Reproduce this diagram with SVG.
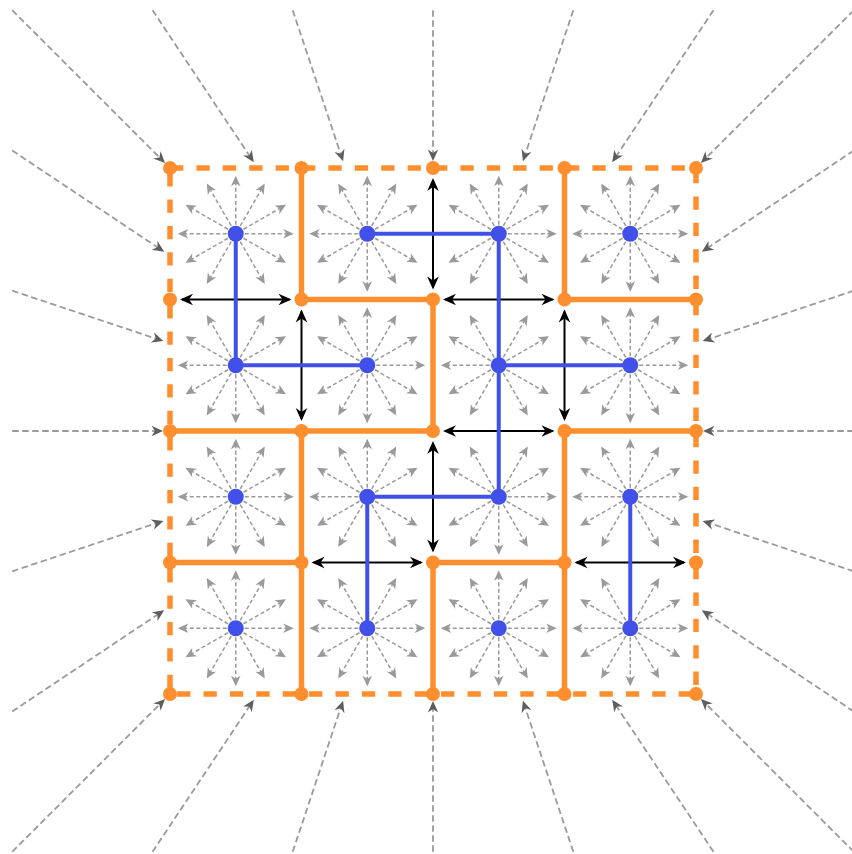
<svg xmlns="http://www.w3.org/2000/svg" xmlns:xlink="http://www.w3.org/1999/xlink" width="852" height="854" viewBox="0 0 852 854">
<style>
.field line{stroke:#9a9a9a;stroke-width:1.5;stroke-dasharray:4 2.6;fill:none;marker-end:url(#ahField)}
.outer line{stroke:#9a9a9a;stroke-width:1.8;stroke-dasharray:6.5 3.5;fill:none;marker-end:url(#ahOuter)}
.wall{stroke:#ff8f2e;stroke-width:5.5;fill:none;stroke-linecap:butt}
.border{stroke:#ff8f2e;stroke-width:5.5;fill:none;stroke-dasharray:13.3 13.1}
.dual line{stroke:#000;stroke-width:2;fill:none;marker-start:url(#ahBlackS);marker-end:url(#ahBlack)}
.tree line{stroke:#4050e8;stroke-width:4;fill:none}
.vtx{fill:#ff8f2e}
.ctr{fill:#4050e8}
</style>
<defs>
<marker id="ahField" viewBox="-10 -6 13 12" refX="0" refY="0" markerWidth="13" markerHeight="12" markerUnits="userSpaceOnUse" orient="auto"><path d="M2,0 L-8.5,-4.8 L-5.5,0 L-8.5,4.8 Z" fill="#9a9a9a"/></marker>
<marker id="ahOuter" viewBox="-11 -6 14 12" refX="0" refY="0" markerWidth="14" markerHeight="12" markerUnits="userSpaceOnUse" orient="auto"><path d="M2,0 L-9.5,-5.2 L-6,0 L-9.5,5.2 Z" fill="#5e5e5e"/></marker>
<marker id="ahBlack" viewBox="-12 -7 15 14" refX="0" refY="0" markerWidth="15" markerHeight="14" markerUnits="userSpaceOnUse" orient="auto"><path d="M2,0 L-11,-5.8 L-7,0 L-11,5.8 Z" fill="#000"/></marker>
<marker id="ahBlackS" viewBox="-12 -7 15 14" refX="0" refY="0" markerWidth="15" markerHeight="14" markerUnits="userSpaceOnUse" orient="auto-start-reverse"><path d="M2,0 L-11,-5.8 L-7,0 L-11,5.8 Z" fill="#000"/></marker>
<g class="field">
<g id="diag">
<line x1="7.79" y1="4.5" x2="48.5" y2="28"/>
<line x1="4.5" y1="7.79" x2="28" y2="48.5"/>
<line x1="-4.5" y1="7.79" x2="-28" y2="48.5"/>
<line x1="-7.79" y1="4.5" x2="-48.5" y2="28"/>
<line x1="-7.79" y1="-4.5" x2="-48.5" y2="-28"/>
<line x1="-4.5" y1="-7.79" x2="-28" y2="-48.5"/>
<line x1="4.5" y1="-7.79" x2="28" y2="-48.5"/>
<line x1="7.79" y1="-4.5" x2="48.5" y2="-28"/>
</g>
<line id="aR" x1="9" y1="0" x2="56" y2="0"/>
<line id="aD" x1="0" y1="9" x2="0" y2="56"/>
<line id="aL" x1="-9" y1="0" x2="-56" y2="0"/>
<line id="aU" x1="0" y1="-9" x2="0" y2="-56"/>
</g>
</defs>
<rect width="852" height="854" fill="#fff"/>
<g id="fields">
<g transform="translate(235.75,233.75)"><use xlink:href="#diag"/><use xlink:href="#aR"/><use xlink:href="#aL"/><use xlink:href="#aU"/></g>
<g transform="translate(367.25,233.75)"><use xlink:href="#diag"/><use xlink:href="#aD"/><use xlink:href="#aL"/><use xlink:href="#aU"/></g>
<g transform="translate(498.75,233.75)"><use xlink:href="#diag"/><use xlink:href="#aR"/><use xlink:href="#aU"/></g>
<g transform="translate(630.25,233.75)"><use xlink:href="#diag"/><use xlink:href="#aR"/><use xlink:href="#aD"/><use xlink:href="#aL"/><use xlink:href="#aU"/></g>
<g transform="translate(235.75,365.25)"><use xlink:href="#diag"/><use xlink:href="#aD"/><use xlink:href="#aL"/></g>
<g transform="translate(367.25,365.25)"><use xlink:href="#diag"/><use xlink:href="#aR"/><use xlink:href="#aD"/><use xlink:href="#aU"/></g>
<g transform="translate(498.75,365.25)"><use xlink:href="#diag"/><use xlink:href="#aL"/></g>
<g transform="translate(630.25,365.25)"><use xlink:href="#diag"/><use xlink:href="#aR"/><use xlink:href="#aD"/><use xlink:href="#aU"/></g>
<g transform="translate(235.75,496.75)"><use xlink:href="#diag"/><use xlink:href="#aR"/><use xlink:href="#aD"/><use xlink:href="#aL"/><use xlink:href="#aU"/></g>
<g transform="translate(367.25,496.75)"><use xlink:href="#diag"/><use xlink:href="#aL"/><use xlink:href="#aU"/></g>
<g transform="translate(498.75,496.75)"><use xlink:href="#diag"/><use xlink:href="#aR"/><use xlink:href="#aD"/></g>
<g transform="translate(630.25,496.75)"><use xlink:href="#diag"/><use xlink:href="#aR"/><use xlink:href="#aL"/><use xlink:href="#aU"/></g>
<g transform="translate(235.75,628.25)"><use xlink:href="#diag"/><use xlink:href="#aR"/><use xlink:href="#aD"/><use xlink:href="#aL"/><use xlink:href="#aU"/></g>
<g transform="translate(367.25,628.25)"><use xlink:href="#diag"/><use xlink:href="#aR"/><use xlink:href="#aD"/><use xlink:href="#aL"/></g>
<g transform="translate(498.75,628.25)"><use xlink:href="#diag"/><use xlink:href="#aR"/><use xlink:href="#aD"/><use xlink:href="#aL"/><use xlink:href="#aU"/></g>
<g transform="translate(630.25,628.25)"><use xlink:href="#diag"/><use xlink:href="#aR"/><use xlink:href="#aD"/><use xlink:href="#aL"/></g>
</g>
<g id="connectors">
<g class="outer">
<line x1="12.2" y1="10.2" x2="163.64" y2="161.64"/>
<line x1="152.5" y1="10.2" x2="252.68" y2="160.51"/>
<line x1="292.7" y1="10.2" x2="342.48" y2="159.46"/>
<line x1="433" y1="10.2" x2="433" y2="159"/>
<line x1="573.3" y1="10.2" x2="523.52" y2="159.46"/>
<line x1="713.5" y1="10.2" x2="613.32" y2="160.51"/>
<line x1="853.8" y1="10.2" x2="702.36" y2="161.64"/>
<line x1="12.2" y1="851.8" x2="163.64" y2="700.36"/>
<line x1="152.5" y1="851.8" x2="252.68" y2="701.49"/>
<line x1="292.7" y1="851.8" x2="342.48" y2="702.54"/>
<line x1="433" y1="851.8" x2="433" y2="703"/>
<line x1="573.3" y1="851.8" x2="523.52" y2="702.54"/>
<line x1="713.5" y1="851.8" x2="613.32" y2="701.49"/>
<line x1="853.8" y1="851.8" x2="702.36" y2="700.36"/>
<line x1="12.2" y1="150.5" x2="162.51" y2="250.68"/>
<line x1="12.2" y1="290.7" x2="161.46" y2="340.48"/>
<line x1="12.2" y1="431" x2="161" y2="431"/>
<line x1="12.2" y1="571.3" x2="161.46" y2="521.52"/>
<line x1="12.2" y1="711.5" x2="162.51" y2="611.32"/>
<line x1="853.8" y1="150.5" x2="703.49" y2="250.68"/>
<line x1="853.8" y1="290.7" x2="704.54" y2="340.48"/>
<line x1="853.8" y1="431" x2="705" y2="431"/>
<line x1="853.8" y1="571.3" x2="704.54" y2="521.52"/>
<line x1="853.8" y1="711.5" x2="703.49" y2="611.32"/>
</g>
<g id="walls">
<path class="border" d="M170,168 H696 V694 H170 Z"/>
<path class="wall" d="M301.5,168 V299.5 H433 V431 H170"/>
<path class="wall" d="M564.5,168 V299.5 H696"/>
<path class="wall" d="M301.5,431 V694"/>
<path class="wall" d="M170,562.5 H301.5"/>
<path class="wall" d="M696,431 H564.5 V694"/>
<path class="wall" d="M564.5,562.5 H433 V694"/>
</g>
<g class="dual">
<line x1="182" y1="299.5" x2="289.5" y2="299.5"/>
<line x1="301.5" y1="311.5" x2="301.5" y2="419"/>
<line x1="433" y1="180" x2="433" y2="287.5"/>
<line x1="445" y1="299.5" x2="552.5" y2="299.5"/>
<line x1="564.5" y1="311.5" x2="564.5" y2="419"/>
<line x1="445" y1="431" x2="552.5" y2="431"/>
<line x1="433" y1="443" x2="433" y2="550.5"/>
<line x1="313.5" y1="562.5" x2="421" y2="562.5"/>
<line x1="576.5" y1="562.5" x2="684" y2="562.5"/>
</g>
<g class="tree">
<line x1="235.75" y1="233.75" x2="235.75" y2="365.25"/>
<line x1="235.75" y1="365.25" x2="367.25" y2="365.25"/>
<line x1="367.25" y1="233.75" x2="498.75" y2="233.75"/>
<line x1="498.75" y1="233.75" x2="498.75" y2="496.75"/>
<line x1="498.75" y1="365.25" x2="630.25" y2="365.25"/>
<line x1="367.25" y1="496.75" x2="498.75" y2="496.75"/>
<line x1="367.25" y1="496.75" x2="367.25" y2="628.25"/>
<line x1="630.25" y1="496.75" x2="630.25" y2="628.25"/>
</g>
</g>
<g id="vertices">
<g id="v00"><circle class="vtx" cx="170" cy="168" r="7"/></g>
<g id="v10"><circle class="vtx" cx="301.5" cy="168" r="7"/></g>
<g id="v20"><circle class="vtx" cx="433" cy="168" r="7"/></g>
<g id="v30"><circle class="vtx" cx="564.5" cy="168" r="7"/></g>
<g id="v40"><circle class="vtx" cx="696" cy="168" r="7"/></g>
<g id="v01"><circle class="vtx" cx="170" cy="299.5" r="7"/></g>
<g id="v11"><circle class="vtx" cx="301.5" cy="299.5" r="7"/></g>
<g id="v21"><circle class="vtx" cx="433" cy="299.5" r="7"/></g>
<g id="v31"><circle class="vtx" cx="564.5" cy="299.5" r="7"/></g>
<g id="v41"><circle class="vtx" cx="696" cy="299.5" r="7"/></g>
<g id="v02"><circle class="vtx" cx="170" cy="431" r="7"/></g>
<g id="v12"><circle class="vtx" cx="301.5" cy="431" r="7"/></g>
<g id="v22"><circle class="vtx" cx="433" cy="431" r="7"/></g>
<g id="v32"><circle class="vtx" cx="564.5" cy="431" r="7"/></g>
<g id="v42"><circle class="vtx" cx="696" cy="431" r="7"/></g>
<g id="v03"><circle class="vtx" cx="170" cy="562.5" r="7"/></g>
<g id="v13"><circle class="vtx" cx="301.5" cy="562.5" r="7"/></g>
<g id="v23"><circle class="vtx" cx="433" cy="562.5" r="7"/></g>
<g id="v33"><circle class="vtx" cx="564.5" cy="562.5" r="7"/></g>
<g id="v43"><circle class="vtx" cx="696" cy="562.5" r="7"/></g>
<g id="v04"><circle class="vtx" cx="170" cy="694" r="7"/></g>
<g id="v14"><circle class="vtx" cx="301.5" cy="694" r="7"/></g>
<g id="v24"><circle class="vtx" cx="433" cy="694" r="7"/></g>
<g id="v34"><circle class="vtx" cx="564.5" cy="694" r="7"/></g>
<g id="v44"><circle class="vtx" cx="696" cy="694" r="7"/></g>
</g>
<g id="centers">
<g id="c00"><circle class="ctr" cx="235.75" cy="233.75" r="8"/></g>
<g id="c10"><circle class="ctr" cx="367.25" cy="233.75" r="8"/></g>
<g id="c20"><circle class="ctr" cx="498.75" cy="233.75" r="8"/></g>
<g id="c30"><circle class="ctr" cx="630.25" cy="233.75" r="8"/></g>
<g id="c01"><circle class="ctr" cx="235.75" cy="365.25" r="8"/></g>
<g id="c11"><circle class="ctr" cx="367.25" cy="365.25" r="8"/></g>
<g id="c21"><circle class="ctr" cx="498.75" cy="365.25" r="8"/></g>
<g id="c31"><circle class="ctr" cx="630.25" cy="365.25" r="8"/></g>
<g id="c02"><circle class="ctr" cx="235.75" cy="496.75" r="8"/></g>
<g id="c12"><circle class="ctr" cx="367.25" cy="496.75" r="8"/></g>
<g id="c22"><circle class="ctr" cx="498.75" cy="496.75" r="8"/></g>
<g id="c32"><circle class="ctr" cx="630.25" cy="496.75" r="8"/></g>
<g id="c03"><circle class="ctr" cx="235.75" cy="628.25" r="8"/></g>
<g id="c13"><circle class="ctr" cx="367.25" cy="628.25" r="8"/></g>
<g id="c23"><circle class="ctr" cx="498.75" cy="628.25" r="8"/></g>
<g id="c33"><circle class="ctr" cx="630.25" cy="628.25" r="8"/></g>
</g>
</svg>
